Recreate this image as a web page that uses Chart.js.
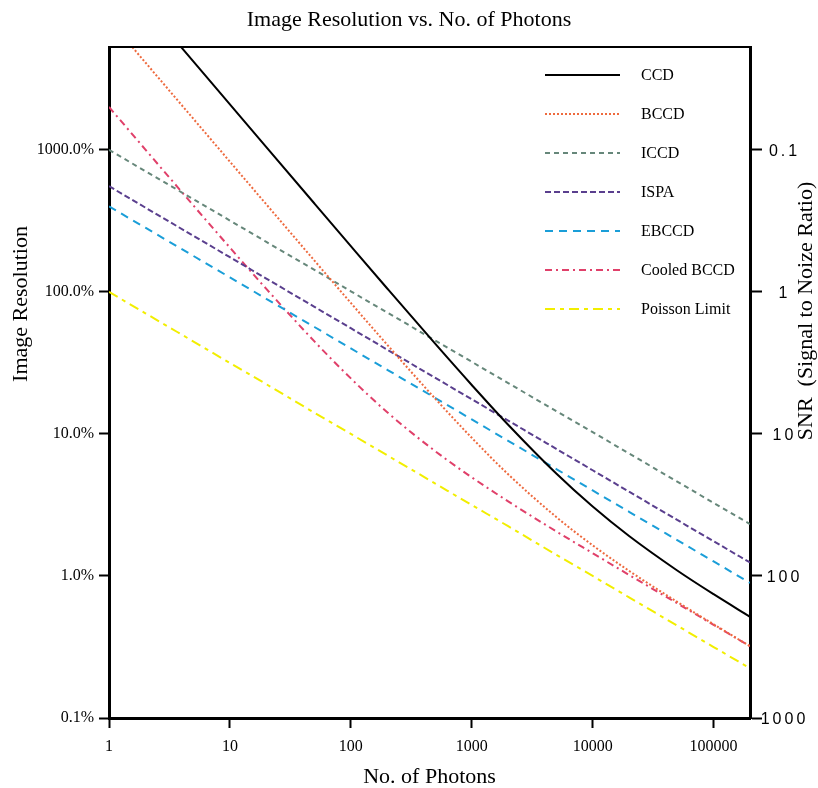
<!DOCTYPE html>
<html lang="en">
<head>
<meta charset="UTF-8">
<title>Image Resolution vs. No. of Photons</title>
<script src="https://cdn.jsdelivr.net/npm/chart.js"></script>
<style>
body {
	margin: 0;
	background: #fff;
}

.wrap {
	width: 818px;
	height: 788px;
	position: relative;
}
</style>
</head>
<body>
<div class="wrap"><canvas id="chart"></canvas></div>
<script>
// values (image resolution in %)
const photons = [1, 2, 5, 10, 20, 50, 100, 200, 500, 1000, 2000, 5000, 10000, 20000, 50000, 100000, 200000];
const ccd = [20900, 10450, 4180, 2091, 1046, 419.2, 210.2, 105.7, 43.0, 22.1, 11.6, 5.26, 3.08, 1.91, 1.093, 0.744, 0.516];
const bccd = [8243, 4122, 1650, 825.5, 413.4, 166.1, 83.6, 42.4, 17.67, 9.39, 5.20, 2.60, 1.643, 1.086, 0.657, 0.457, 0.320];
const iccd = [1000, 708, 449, 318, 225, 143, 101, 71.6, 45.4, 32.2, 22.8, 14.5, 10.3, 7.28, 4.62, 3.27, 2.32];
const ispa = [555, 392, 248, 175.5, 124.1, 78.5, 55.5, 39.2, 24.8, 17.55, 12.41, 7.85, 5.55, 3.92, 2.48, 1.755, 1.245];
const ebccd = [400, 283, 179, 126.5, 89.4, 56.6, 40, 28.3, 17.9, 12.65, 8.94, 5.66, 4.0, 2.83, 1.79, 1.265, 0.894];
const cooledBccd = [2005, 1005, 405, 205, 105, 44.8, 24.6, 14.2, 7.55, 4.95, 3.35, 2.06, 1.446, 1.017, 0.642, 0.453, 0.320];
const poisson = [100, 70.7, 44.7, 31.6, 22.4, 14.1, 10, 7.07, 4.47, 3.16, 2.24, 1.41, 1.0, 0.707, 0.447, 0.316, 0.224];

const seriesNames = ['CCD', 'BCCD', 'ICCD', 'ISPA', 'EBCCD', 'Cooled BCCD', 'Poisson Limit'];
const photonTicks = [1, 10, 100, 1000, 10000, 100000];
const resTicks = [0.1, 1, 10, 100, 1000];
const snrTicks = [0.1, 1, 10, 100, 1000];

const SERIF = "'Liberation Serif', 'Times New Roman', serif";
const SANS = "'Liberation Sans', Arial, sans-serif";

const colors = ['#000000', '#ee6a3e', '#66877a', '#5a3f8e', '#1a9ed8', '#e0406a', '#f2ee00'];
const dashes = [[], [2, 2], [5, 4], [6, 3], [8, 6], [7, 4, 2, 4], [10, 5, 4, 5]];
const widths = [2, 2, 2, 2, 2, 2, 2];
const values = [ccd, bccd, iccd, ispa, ebccd, cooledBccd, poisson];

const resMin = 0.1, resMax = 5300;

const datasets = seriesNames.map((name, i) => ({
	label: name,
	data: photons.map((n, k) => ({ x: n, y: values[i][k] })),
	borderColor: colors[i],
	borderDash: dashes[i],
	borderWidth: widths[i],
	pointRadius: 0,
	fill: false,
	cubicInterpolationMode: 'monotone'
}));

function decades(list) {
	return scale => { scale.ticks = list.map(v => ({ value: v })); };
}

const extras = {
	id: 'extras',
	afterDraw(chart) {
		const ctx = chart.ctx;
		const a = chart.chartArea;
		ctx.save();
		// top edge of the frame
		ctx.strokeStyle = '#000';
		ctx.lineWidth = 2;
		ctx.setLineDash([]);
		ctx.beginPath();
		ctx.moveTo(a.left, a.top);
		ctx.lineTo(a.right + 1, a.top);
		ctx.stroke();

		// right axis labels (SNR)
		const y2 = chart.scales.y2;
		ctx.fillStyle = '#000';
		ctx.font = '16px ' + SANS;
		ctx.textAlign = 'center';
		ctx.textBaseline = 'middle';
		ctx.letterSpacing = '3px';
		snrTicks.forEach(v => ctx.fillText(String(v), 784.5, y2.getPixelForValue(v) + 2));
		ctx.letterSpacing = '0px';

		// axis titles, both read bottom to top
		ctx.font = '22px ' + SERIF;
		ctx.save();
		ctx.translate(21, 304);
		ctx.rotate(-Math.PI / 2);
		ctx.fillText('Image Resolution', 0, 0);
		ctx.restore();
		ctx.save();
		ctx.translate(806, 311);
		ctx.rotate(-Math.PI / 2);
		ctx.fillText('SNR  (Signal to Noize Ratio)', 0, 0);
		ctx.restore();

		// legend
		ctx.font = '16px ' + SERIF;
		ctx.textAlign = 'left';
		chart.data.datasets.forEach((ds, i) => {
			const y = 75 + i * 39;
			ctx.strokeStyle = ds.borderColor;
			ctx.lineWidth = ds.borderWidth;
			ctx.setLineDash(ds.borderDash);
			ctx.beginPath();
			ctx.moveTo(545, y);
			ctx.lineTo(620, y);
			ctx.stroke();
			ctx.setLineDash([]);
			ctx.fillText(ds.label, 641, y + 1);
		});
		ctx.restore();
	}
};

const ctx = document.getElementById('chart').getContext('2d');
const chart = new Chart(ctx, {
	type: 'line',
	data: { datasets: datasets },
	options: {
		responsive: true,
		maintainAspectRatio: false,
		animation: false,
		layout: { padding: 0 },
		plugins: {
			legend: { display: false },
			tooltip: { enabled: false },
			title: {
				display: true,
				text: 'Image Resolution vs. No. of Photons',
				color: '#000',
				font: { family: SERIF, size: 22, weight: 'normal', lineHeight: 1.2 },
				padding: { top: 7, bottom: 13.6 }
			}
		},
		scales: {
			x: {
				type: 'logarithmic',
				position: 'bottom',
				min: 1,
				max: 200000,
				afterBuildTicks: decades(photonTicks),
				afterFit: s => { s.height = 70; },
				ticks: {
					color: '#000',
					font: { family: SERIF, size: 16 },
					padding: 9,
					maxRotation: 0,
					autoSkip: false,
					callback: v => String(v)
				},
				grid: { drawOnChartArea: false, drawTicks: true, tickLength: 10, tickWidth: 2, color: '#000' },
				border: { display: true, color: '#000', width: 3 },
				title: {
					display: true,
					text: 'No. of Photons',
					color: '#000',
					font: { family: SERIF, size: 22, lineHeight: 1 },
					padding: { top: 0, bottom: 0 }
				}
			},
			y: {
				type: 'logarithmic',
				position: 'left',
				min: resMin,
				max: resMax,
				afterBuildTicks: decades(resTicks),
				afterFit: s => { s.width = 109; },
				ticks: {
					color: '#000',
					font: { family: SERIF, size: 16 },
					padding: 5,
					autoSkip: false,
					callback: v => v.toFixed(1) + '%'
				},
				grid: { drawOnChartArea: false, drawTicks: true, tickLength: 10, tickWidth: 2, color: '#000' },
				border: { display: true, color: '#000', width: 3 }
			},
			y2: {
				type: 'logarithmic',
				position: 'right',
				reverse: true,
				min: 100 / resMax,
				max: 100 / resMin,
				afterBuildTicks: decades(snrTicks),
				afterFit: s => { s.width = 68; },
				ticks: { display: false },
				grid: { drawOnChartArea: false, drawTicks: true, tickLength: 12, tickWidth: 2, color: '#000' },
				border: { display: true, color: '#000', width: 3 }
			}
		}
	},
	plugins: [extras]
});
</script>
</body>
</html>
